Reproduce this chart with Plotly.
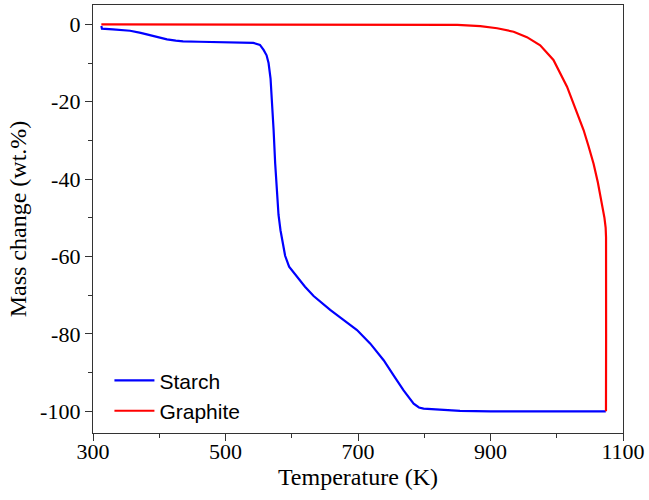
import plotly.graph_objects as go

# ---- data ----
starch_T = [312.6, 313.5, 330, 356, 372, 386.5, 400, 411.7, 425, 436, 460, 507, 542, 552,
            557.5, 562, 565, 568, 570, 572.6, 575, 577.6, 580, 583, 586, 590, 596, 608,
            620, 633, 658, 673, 698.5, 718.6, 738.7, 753.7, 768.8, 784, 792, 799, 820,
            854, 900, 1000, 1074]
starch_val = [-0.4, -1.1, -1.3, -1.65, -2.2, -2.8, -3.4, -3.9, -4.2, -4.4, -4.5, -4.6, -4.8,
              -5.3, -6.6, -8.0, -10, -14, -18.7, -27.3, -36, -44.6, -49.2, -53.2, -56.5, -59.8,
              -62.6, -65.3, -67.8, -70.2, -73.8, -75.7, -79, -82.5, -86.8, -90.7, -94.6,
              -98, -99, -99.3, -99.6, -99.9, -100, -100, -100]

graphite_T = [312.6, 400, 500, 600, 700, 800, 850, 884.6, 910, 934.9, 955, 975, 995,
              1015.5, 1035.5, 1040.5, 1048, 1055.6, 1062, 1068.3, 1072, 1073.8, 1074.4,
              1074.5, 1074.3]
graphite_val = [0, 0, 0, 0, 0, -0.05, -0.15, -0.44, -1.0, -1.9, -3.3, -5.4, -9.2,
                -16.1, -24.7, -27.3, -31.5, -36, -40.8, -46.3, -50, -52.5, -55,
                -80, -100]

x_ticks = [300, 500, 700, 900, 1100]
x_ticklabels = ["300", "500", "700", "900", "1100"]
y_ticks = [0, -20, -40, -60, -80, -100]
y_ticklabels = ["0", "-20", "-40", "-60", "-80", "-100"]

serif = "Liberation Serif, Times New Roman, serif"
sans = "Liberation Sans, Arial, sans-serif"

fig = go.Figure()
fig.add_trace(go.Scatter(x=starch_T, y=starch_val, mode="lines", name="Starch",
                         line=dict(color="#0000ff", width=2.2)))
fig.add_trace(go.Scatter(x=graphite_T, y=graphite_val, mode="lines", name="Graphite",
                         line=dict(color="#ff0000", width=2.2)))

axis_common = dict(showline=True, linecolor="#333333", linewidth=1.3, mirror=True,
                   ticks="outside", ticklen=7, tickwidth=1.3, tickcolor="#333333",
                   showgrid=False, zeroline=False, automargin=False,
                   tickfont=dict(family=serif, size=22, color="black"))

fig.update_xaxes(range=[300, 1100], tickvals=x_ticks, ticktext=x_ticklabels,
                 ticklabelstandoff=-9,
                 minor=dict(dtick=100, ticks="outside", ticklen=4, tickwidth=1.3,
                            tickcolor="#333333", showgrid=False),
                 title=dict(text="Temperature (K)", font=dict(family=serif, size=24, color="black"),
                            standoff=0),
                 **axis_common)
fig.update_yaxes(range=[-105.6, 5], tickvals=y_ticks, ticktext=y_ticklabels,
                 minor=dict(dtick=10, ticks="outside", ticklen=4, tickwidth=1.3,
                            tickcolor="#333333", showgrid=False),
                 title=dict(text="Mass change (wt.%)", font=dict(family=serif, size=24, color="black"),
                            standoff=6),
                 **axis_common)

fig.update_layout(
    width=649, height=500,
    margin=dict(l=93, r=26, t=5, b=67),
    paper_bgcolor="white", plot_bgcolor="white",
    showlegend=True,
    legend=dict(x=0.031, y=0.004, xanchor="left", yanchor="bottom",
                bgcolor="rgba(0,0,0,0)", font=dict(family=sans, size=21, color="black"),
                tracegroupgap=0, itemwidth=40),
)

fig.write_html("out.html", config={"displayModeBar": False},
               post_script="document.body.style.margin='0';")
